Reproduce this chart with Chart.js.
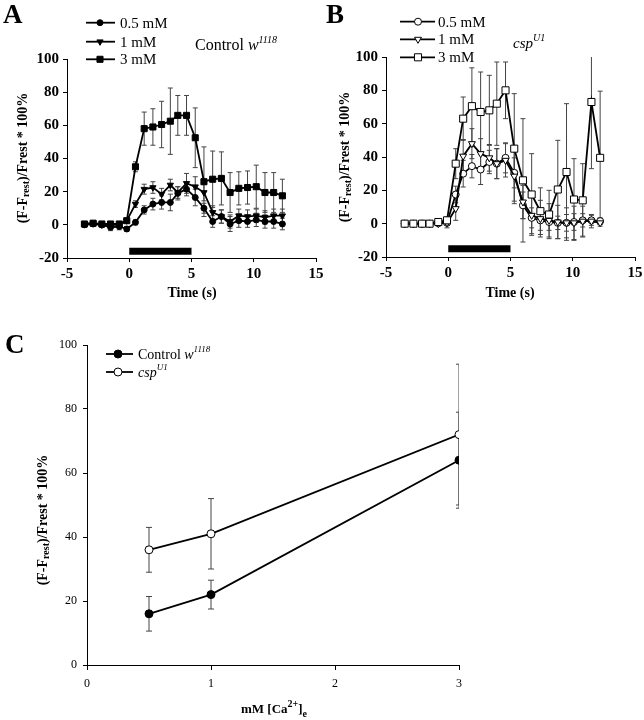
<!DOCTYPE html>
<html>
<head>
<meta charset="utf-8">
<script src="https://cdn.jsdelivr.net/npm/chart.js@4.4.0/dist/chart.umd.min.js"></script>
<style>
  body { margin: 0; background: #fff; }
  #wrap { position: relative; width: 644px; height: 720px; overflow: hidden; }
  canvas { position: absolute; }
</style>
</head>
<body>
<div id="wrap">
  <canvas id="chartA" width="330" height="340" style="left:0;top:0;width:330px;height:340px"></canvas>
  <canvas id="chartB" width="324" height="340" style="left:320px;top:0;width:324px;height:340px"></canvas>
  <canvas id="chartC" width="644" height="400" style="left:0;top:320px;width:644px;height:400px"></canvas>
</div>
<script>
// ---- data ----
const timeA = [-3.6, -2.9, -2.2, -1.5, -0.8, -0.2, 0.5, 1.2, 1.9, 2.6, 3.3, 3.9, 4.6, 5.3, 6.0, 6.7, 7.4, 8.1, 8.8, 9.5, 10.2, 10.9, 11.6, 12.3];
const ctl05 = [0, 0.5, 0, -1.5, -1, -2.5, 1.5, 9, 12.5, 13.5, 13.5, 19, 21.5, 16.5, 10, 2, 5, 0.5, 2.5, 2, 3, 2, 2, 0.5];
const ctl05Err = [1.5, 1.5, 1.5, 2, 2, 1.5, 1.5, 2.5, 3.5, 4, 5, 4, 4, 5, 3, 3.5, 4, 4.5, 4, 3.5, 4, 4, 4, 3.5];
const ctl1 = [0.5, 1, 0, 0, 0, 2.5, 12.5, 21.5, 22.5, 18.5, 24, 19.5, 25, 23, 19.5, 7.5, 5, 2, 5.5, 5, 5.5, 4.5, 5.5, 5.5];
const ctl1Err = [1, 1, 1, 1, 1, 1, 2, 3, 3.5, 3.5, 3.5, 3.5, 6, 6, 5, 4, 4, 4, 4, 4, 4, 4, 4, 4];
const ctl3 = [0.5, 1, 0.5, 0.5, 0.5, 2.5, 35, 58, 59, 60.5, 62.5, 66, 66, 52.5, 26, 27.5, 28, 19.5, 22, 22.5, 23, 19.5, 19.5, 17.5];
const ctl3Err = [1, 1, 1, 1, 1, 1, 3, 10, 11, 14, 20, 12, 12, 18, 21, 17, 16, 12, 10, 10, 13, 12, 12, 10];

const timeB = [-3.5, -2.8, -2.1, -1.5, -0.8, -0.1, 0.6, 1.2, 1.9, 2.6, 3.3, 3.9, 4.6, 5.3, 6.0, 6.7, 7.4, 8.1, 8.8, 9.5, 10.1, 10.8, 11.5, 12.2];
const csp05 = [0, 0, 0, 0, 0.5, 0.5, 17.5, 30, 34.5, 32.5, 37, 36, 39.5, 30.5, 11, 3.5, 2, 1, 0.5, 0.5, 1, 2, 2, 1.5];
const csp05Err = [1, 1, 1, 1, 1.5, 1.5, 5, 8, 7, 9, 7, 9, 9, 9, 8, 6, 6, 5, 4, 5, 5, 4, 3, 2];
const csp1 = [0, 0, 0, 0, 0, 0.5, 9, 40.5, 48, 42, 39.5, 36, 38, 28.5, 13, 5, 3, 2, 1, 0.5, 0.5, 1.5, 1.5, 0.5];
const csp1Err = [1, 1, 1, 1, 1.5, 3, 7, 10, 9, 9, 8, 9, 10, 15, 10, 11, 11, 10, 10, 9, 10, 9, 4, 2];
const csp3 = [0, 0, 0, 0, 1, 2, 36, 63, 70.5, 67, 68, 72, 80, 45, 26, 17.5, 7.5, 5.5, 20.5, 31, 14.5, 14, 73, 39.5];
const csp3Err = [1, 1, 1, 1, 1, 2, 9, 13, 23, 24, 21, 25, 17, 33, 37, 24.5, 14, 14.5, 29.5, 41, 24.5, 22, 40, 40];

// stimulus bar (s) and its level on the y axis
const stimTimes = [0, 5];
const stimLevelA = -16;
const stimLevelB = -15;

const caConc = [0.5, 1, 3];
const ctlMean = [16, 22, 64];
const ctlErr = [5.4, 4.5, 15];
const cspMean = [36, 41, 72];
const cspErr = [7, 11, 22];

const tickTime = [-5, 0, 5, 10, 15];
const tickPct = [-20, 0, 20, 40, 60, 80, 100];
const tickConc = [0, 1, 2, 3];
const tickPctC = [0, 20, 40, 60, 80, 100];

const SERIF = "'Liberation Serif', 'Times New Roman', serif";
Chart.defaults.font.family = SERIF;
Chart.defaults.color = '#000';
Chart.defaults.animation = false;

function pts(xs, ys) {
  return xs.map((x, i) => ({ x: x, y: ys[i] }));
}
// each error bar is its own little segment, gaps split them
function errPts(xs, ys, es) {
  const out = [];
  xs.forEach((x, i) => {
    out.push({ x: x, y: ys[i] - es[i] }, { x: x, y: ys[i] + es[i] }, { x: x, y: null });
  });
  return out;
}

function series(xs, ys, style, fill, radius, rot) {
  return {
    data: pts(xs, ys), showLine: true, borderColor: '#000', borderWidth: 1.8,
    pointStyle: style, pointRotation: rot || 0, pointRadius: radius,
    pointBackgroundColor: fill, pointBorderColor: '#000', pointBorderWidth: 1, order: 1
  };
}
function errBars(xs, ys, es, cap) {
  return {
    data: errPts(xs, ys, es), showLine: true, spanGaps: false, borderColor: '#444', borderWidth: 1,
    pointStyle: 'line', pointRadius: cap, pointBorderColor: '#444', pointBorderWidth: 1, order: 3
  };
}
function stimBar(level) {
  return {
    data: stimTimes.map(t => ({ x: t, y: level })), showLine: true, borderColor: '#000',
    borderWidth: 7, borderCapStyle: 'butt', pointRadius: 0, order: 2
  };
}

// draws titles, letters and legends on top of each chart
const annotPlugin = {
  id: 'annot',
  afterDraw(chart, args, opts) {
    const ctx = chart.ctx;
    ctx.save();
    (opts.items || []).forEach(it => {
      if (it.legend) {
        ctx.strokeStyle = '#000';
        ctx.lineWidth = 1.8;
        ctx.beginPath();
        ctx.moveTo(it.x1, it.y);
        ctx.lineTo(it.x2, it.y);
        ctx.stroke();
        ctx.fillStyle = it.fill;
        ctx.lineWidth = 1;
        Chart.helpers.drawPoint(ctx, { pointStyle: it.style, radius: it.radius, rotation: it.rot || 0, borderWidth: 1 }, it.xm, it.y);
        return;
      }
      ctx.fillStyle = '#000';
      ctx.textBaseline = it.baseline || 'alphabetic';
      let w = 0;
      it.runs.forEach(r => { ctx.font = r.f; w += ctx.measureText(r.t).width; });
      ctx.save();
      ctx.translate(it.x, it.y);
      if (it.rot) ctx.rotate(-Math.PI / 2);
      let x = it.center ? -w / 2 : 0;
      it.runs.forEach(r => {
        ctx.font = r.f;
        ctx.textAlign = 'left';
        ctx.fillText(r.t, x, r.dy || 0);
        x += ctx.measureText(r.t).width;
      });
      ctx.restore();
    });
    ctx.restore();
  }
};

function axis(min, max, ticks, font, size, isX, tickLen, pad) {
  return {
    type: 'linear', min: min, max: max,
    afterBuildTicks: s => { s.ticks = ticks.map(v => ({ value: v })); },
    ticks: { font: font, color: '#000', padding: pad, autoSkip: false, maxRotation: 0 },
    grid: { drawOnChartArea: false, drawTicks: true, tickLength: tickLen, color: '#000' },
    border: { display: true, color: '#000', width: 1 },
    afterFit: s => {
      if (isX) { s.height = size; } else { s.width = size; }
      s.paddingLeft = 0; s.paddingRight = 0; s.paddingTop = 0; s.paddingBottom = 0;
    }
  };
}

const tickFontAB = { family: SERIF, size: 15, weight: 'bold' };
const yTitleRuns = [
  { t: '(F-F', f: 'bold 14px ' + SERIF },
  { t: 'rest', f: 'bold 10px ' + SERIF, dy: 3 },
  { t: ')/Frest * 100%', f: 'bold 14px ' + SERIF }
];

function timeChart(id, datasets, layoutPad, yWidth, xHeight, items) {
  return new Chart(document.getElementById(id), {
    type: 'scatter',
    data: { datasets: datasets },
    options: {
      responsive: false, events: [],
      layout: { padding: layoutPad },
      plugins: { legend: { display: false }, tooltip: { enabled: false }, annot: { items: items } },
      scales: {
        x: axis(-5, 15, tickTime, tickFontAB, xHeight, true, 4, 3),
        y: axis(-20, 100, tickPct, tickFontAB, yWidth, false, 4, 4)
      }
    },
    plugins: [annotPlugin]
  });
}

const legFont = '15px ' + SERIF;

timeChart('chartA', [
  errBars(timeA, ctl3, ctl3Err, 2.5),
  errBars(timeA, ctl1, ctl1Err, 2.5),
  errBars(timeA, ctl05, ctl05Err, 2.5),
  stimBar(stimLevelA),
  series(timeA, ctl3, 'rect', '#000', 4.3),
  series(timeA, ctl1, 'triangle', '#000', 3.6, 180),
  series(timeA, ctl05, 'circle', '#000', 3)
], { left: 0, right: 14, top: 59, bottom: 0 }, 67, 82, [
  { x: 3, y: 23, runs: [{ t: 'A', f: 'bold 27px ' + SERIF }] },
  { legend: true, x1: 86, x2: 115, xm: 100, y: 22.7, style: 'circle', fill: '#000', radius: 3 },
  { legend: true, x1: 86, x2: 115, xm: 100, y: 41.7, style: 'triangle', fill: '#000', radius: 3.6, rot: 180 },
  { legend: true, x1: 86, x2: 115, xm: 100, y: 59.3, style: 'rect', fill: '#000', radius: 4.3 },
  { x: 120, y: 27.5, runs: [{ t: '0.5 mM', f: legFont }] },
  { x: 120, y: 46.5, runs: [{ t: '1 mM', f: legFont }] },
  { x: 120, y: 64, runs: [{ t: '3 mM', f: legFont }] },
  { x: 195, y: 50, runs: [{ t: 'Control ', f: '16px ' + SERIF }, { t: 'w', f: 'italic 16px ' + SERIF }, { t: '1118', f: 'italic 10px ' + SERIF, dy: -7 }] },
  { x: 23, y: 158, rot: true, center: true, baseline: 'middle', runs: yTitleRuns },
  { x: 192, y: 293, center: true, baseline: 'middle', runs: [{ t: 'Time (s)', f: 'bold 14px ' + SERIF }] }
]);

timeChart('chartB', [
  errBars(timeB, csp3, csp3Err, 2.5),
  errBars(timeB, csp1, csp1Err, 2.5),
  errBars(timeB, csp05, csp05Err, 2.5),
  stimBar(stimLevelB),
  series(timeB, csp3, 'rect', '#fff', 5),
  series(timeB, csp1, 'triangle', '#fff', 4, 180),
  series(timeB, csp05, 'circle', '#fff', 3.5)
], { left: 0, right: 9, top: 57, bottom: 0 }, 66, 83, [
  { x: 6, y: 23, runs: [{ t: 'B', f: 'bold 27px ' + SERIF }] },
  { legend: true, x1: 80, x2: 115, xm: 98, y: 21.7, style: 'circle', fill: '#fff', radius: 3.5 },
  { legend: true, x1: 80, x2: 115, xm: 98, y: 39.3, style: 'triangle', fill: '#fff', radius: 4, rot: 180 },
  { legend: true, x1: 80, x2: 115, xm: 98, y: 57.3, style: 'rect', fill: '#fff', radius: 5 },
  { x: 118, y: 26.5, runs: [{ t: '0.5 mM', f: legFont }] },
  { x: 118, y: 44, runs: [{ t: '1 mM', f: legFont }] },
  { x: 118, y: 62, runs: [{ t: '3 mM', f: legFont }] },
  { x: 193, y: 48, runs: [{ t: 'csp', f: 'italic 15px ' + SERIF }, { t: 'U1', f: 'italic 10px ' + SERIF, dy: -7 }] },
  { x: 25, y: 157, rot: true, center: true, baseline: 'middle', runs: yTitleRuns },
  { x: 190, y: 293, center: true, baseline: 'middle', runs: [{ t: 'Time (s)', f: 'bold 14px ' + SERIF }] }
]);

const tickFontC = { family: SERIF, size: 12 };
const legFontC = '14px ' + SERIF;

new Chart(document.getElementById('chartC'), {
  type: 'scatter',
  data: {
    datasets: [
      errBars(caConc, cspMean, cspErr, 3),
      errBars(caConc, ctlMean, ctlErr, 3),
      series(caConc, cspMean, 'circle', '#fff', 4),
      series(caConc, ctlMean, 'circle', '#000', 4)
    ]
  },
  options: {
    responsive: false, events: [],
    layout: { padding: { left: 0, right: 185, top: 25, bottom: 0 } },
    plugins: {
      legend: { display: false }, tooltip: { enabled: false },
      annot: {
        items: [
          { x: 5, y: 33, runs: [{ t: 'C', f: 'bold 27px ' + SERIF }] },
          { legend: true, x1: 106, x2: 133, xm: 118, y: 34, style: 'circle', fill: '#000', radius: 4 },
          { legend: true, x1: 106, x2: 133, xm: 118, y: 52, style: 'circle', fill: '#fff', radius: 4 },
          { x: 138, y: 39, runs: [{ t: 'Control ', f: legFontC }, { t: 'w', f: 'italic ' + legFontC }, { t: '1118', f: 'italic 9px ' + SERIF, dy: -7 }] },
          { x: 138, y: 57, runs: [{ t: 'csp', f: 'italic ' + legFontC }, { t: 'U1', f: 'italic 9px ' + SERIF, dy: -7 }] },
          { x: 43, y: 200, rot: true, center: true, baseline: 'middle', runs: yTitleRuns },
          { x: 274, y: 390, center: true, baseline: 'middle', runs: [
            { t: 'mM [Ca', f: 'bold 13px ' + SERIF },
            { t: '2+', f: 'bold 10px ' + SERIF, dy: -6 },
            { t: ']', f: 'bold 13px ' + SERIF },
            { t: 'e', f: 'bold 10px ' + SERIF, dy: 4 }
          ] }
        ]
      }
    },
    scales: {
      x: axis(0, 3, tickConc, tickFontC, 55, true, 5, 7),
      y: axis(0, 100, tickPctC, tickFontC, 87, false, 4, 6)
    }
  },
  plugins: [annotPlugin]
});
</script>
</body>
</html>
